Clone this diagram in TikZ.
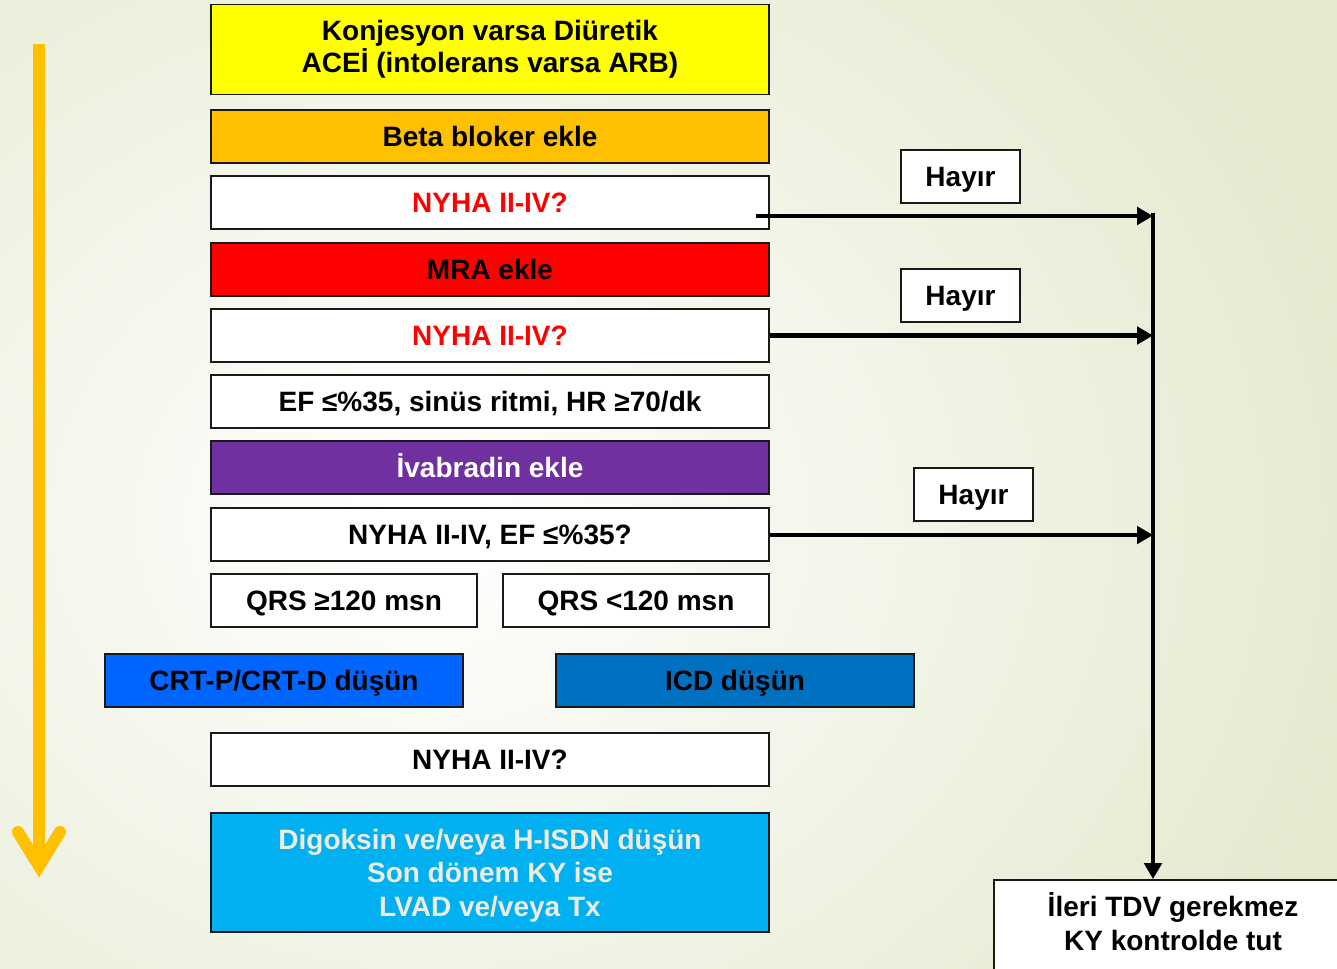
\documentclass[tikz,border=0pt]{standalone}
\usepackage{fontspec}
\setmainfont{Liberation Sans}
\usetikzlibrary{arrows.meta,calc}
\definecolor{bgouter}{RGB}{228,234,208}
\definecolor{cyellow}{RGB}{255,255,0}
\definecolor{corange}{RGB}{255,192,0}
\definecolor{cred}{RGB}{255,0,0}
\definecolor{cpurple}{RGB}{112,48,160}
\definecolor{ccrt}{RGB}{0,102,255}
\definecolor{cicd}{RGB}{0,112,192}
\definecolor{ccyan}{RGB}{0,176,240}
\definecolor{clight}{RGB}{238,236,225}
\begin{document}
\begin{tikzpicture}[x=0.75pt,y=-0.75pt,
  font=\bfseries\fontsize{21}{25}\selectfont,
  box/.style={draw=black!90, line width=1.4pt, inner sep=0pt, align=center,
    minimum height=53*0.75pt, minimum width=558*0.75pt, text height=15pt, text depth=0pt},
  multi/.style={text height=, text depth=},
  halfbox/.style={box, minimum width=266*0.75pt},
  widebox/.style={box, minimum width=358*0.75pt},
  hayirbox/.style={box, fill=white, minimum width=119*0.75pt},
  conn/.style={line width=3.7pt, -{Triangle[length=12pt,width=13pt]}},
  trend/.style={line width=9pt, draw=corange}
]
\useasboundingbox (0,0) rectangle (1337,969);
\shade[inner color=white, outer color=bgouter] (-520,-280) rectangle (1380,1320);

% left stack
\node[box, multi, fill=cyellow, minimum height=90*0.75pt, font=\bfseries\fontsize{21}{24}\selectfont] (ace) at (490,49.5)
  {Konjesyon varsa Diüretik\\ACEİ (intolerans varsa ARB)};
\node[box, fill=corange] (beta) at (490,136.5) {Beta bloker ekle};
\node[box, fill=white, text=cred] (ny1) at (490,202.5) {NYHA II-IV?};
\node[box, fill=cred] (mra) at (490,269.5) {MRA ekle};
\node[box, fill=white, text=cred] (ny2) at (490,335.5) {NYHA II-IV?};
\node[box, fill=white] (ef) at (490,401.5) {EF ≤\%35, sinüs ritmi, HR ≥70/dk};
\node[box, fill=cpurple, text=white] (iva) at (490,467.5) {İvabradin ekle};
\node[box, fill=white] (ny3) at (490,534.5) {NYHA II-IV, EF ≤\%35?};
\node[halfbox, fill=white] (qrs1) at (344,600.5) {QRS ≥120 msn};
\node[halfbox, fill=white] (qrs2) at (636,600.5) {QRS <120 msn};
\node[widebox, fill=ccrt] (crt) at (284,680.5) {CRT-P/CRT-D düşün};
\node[widebox, fill=cicd] (icd) at (735,680.5) {ICD düşün};
\node[box, fill=white] (ny4) at (490,759.5) {NYHA II-IV?};
\node[box, multi, fill=ccyan, text=clight, minimum height=119*0.75pt, font=\bfseries\fontsize{21}{25.2}\selectfont] (dig) at (490,872.5)
  {\rule{0pt}{19.5pt}Digoksin ve/veya H-ISDN düşün\\Son dönem KY ise\\LVAD ve/veya Tx};

% Hayir labels
\node[hayirbox] (h1) at (960.5,176.5) {Hayır};
\node[hayirbox] (h2) at (960.5,295.5) {Hayır};
\node[hayirbox] (h3) at (973.5,494.5) {Hayır};

% final box
\node[box, multi, fill=white, minimum width=358*0.75pt, minimum height=119*0.75pt, text depth=35*0.75pt,
  font=\bfseries\fontsize{21}{25.5}\selectfont] (fin) at (1173,939.5)
  {İleri TDV gerekmez\\KY kontrolde tut};

% connectors
\coordinate (j1) at (1153,216);
\coordinate (j2) at (1153,335.5);
\coordinate (j3) at (1153,535);
\draw[conn] ($(ny1.east)+(-14,13.5)$) -- (j1);
\draw[conn] (ny2.east) -- (j2);
\draw[conn] ($(ny3.east)+(0,0.5)$) -- (j3);
\draw[conn] ($(j1)+(0,-2.5)$) -- (j1 |- fin.north);

% orange trend arrow
\coordinate (ts) at (39,44);
\coordinate (tv) at (39,866);
\draw[trend, line cap=butt] (ts) -- (tv);
\draw[trend, line cap=round, line join=miter] (18,832) -- (tv) -- (60,832);
\end{tikzpicture}
\end{document}
